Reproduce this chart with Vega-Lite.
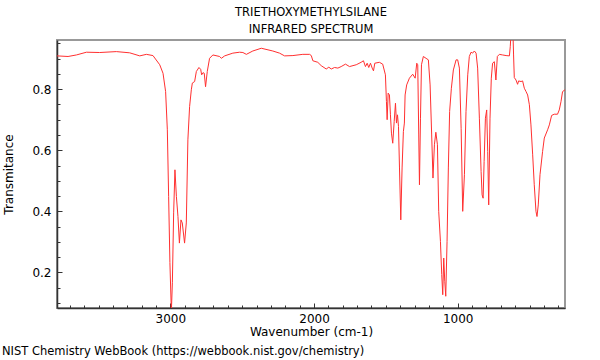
{
 "$schema": "https://vega.github.io/schema/vega-lite/v6.json",
 "background": "white",
 "padding": {"left": 1, "top": 5, "right": 10, "bottom": 2},
 "title": {"text": "NIST Chemistry WebBook (https://webbook.nist.gov/chemistry)", "orient": "bottom", "anchor": "start", "font": "DejaVu Sans", "fontSize": 11.5, "fontWeight": "normal", "color": "#000000", "offset": 8},
 "config": {"view": {"stroke": "#999999", "strokeWidth": 2}, "font": "DejaVu Sans"},
 "vconcat": [{
  "title": {"text": ["TRIETHOXYMETHYLSILANE", "INFRARED SPECTRUM"], "font": "DejaVu Sans", "fontSize": 11.5, "fontWeight": "normal", "color": "#000000", "lineHeight": 17, "offset": 5},
  "width": 508,
  "height": 268,
  "data": {"values": [
   {"w":3789,"t":0.909},{"w":3712,"t":0.907},{"w":3654,"t":0.912},{"w":3584,"t":0.921},{"w":3492,"t":0.920},{"w":3376,"t":0.923},{"w":3283,"t":0.919},{"w":3213,"t":0.909},{"w":3167,"t":0.914},{"w":3121,"t":0.910},{"w":3074,"t":0.880},{"w":3051,"t":0.852},{"w":3033,"t":0.792},{"w":3021,"t":0.667},{"w":3012,"t":0.449},{"w":3003,"t":0.232},{"w":2993,"t":0.07},{"w":2986,"t":0.166},{"w":2977,"t":0.395},{"w":2968,"t":0.536},{"w":2958,"t":0.449},{"w":2947,"t":0.383},{"w":2937,"t":0.296},{"w":2926,"t":0.372},{"w":2917,"t":0.362},{"w":2901,"t":0.296},{"w":2889,"t":0.362},{"w":2878,"t":0.634},{"w":2866,"t":0.743},{"w":2854,"t":0.798},{"w":2847,"t":0.820},{"w":2831,"t":0.825},{"w":2819,"t":0.858},{"w":2801,"t":0.871},{"w":2789,"t":0.865},{"w":2782,"t":0.847},{"w":2773,"t":0.854},{"w":2764,"t":0.852},{"w":2755,"t":0.808},{"w":2743,"t":0.858},{"w":2727,"t":0.901},{"w":2704,"t":0.912},{"w":2657,"t":0.907},{"w":2645,"t":0.901},{"w":2622,"t":0.909},{"w":2565,"t":0.918},{"w":2518,"t":0.921},{"w":2495,"t":0.920},{"w":2471,"t":0.914},{"w":2426,"t":0.925},{"w":2367,"t":0.934},{"w":2287,"t":0.925},{"w":2240,"t":0.918},{"w":2205,"t":0.909},{"w":2147,"t":0.910},{"w":2078,"t":0.914},{"w":2031,"t":0.914},{"w":2019,"t":0.910},{"w":2008,"t":0.893},{"w":1974,"t":0.888},{"w":1950,"t":0.877},{"w":1915,"t":0.866},{"w":1897,"t":0.872},{"w":1880,"t":0.866},{"w":1857,"t":0.871},{"w":1834,"t":0.869},{"w":1811,"t":0.874},{"w":1781,"t":0.882},{"w":1753,"t":0.874},{"w":1706,"t":0.880},{"w":1672,"t":0.888},{"w":1656,"t":0.893},{"w":1642,"t":0.874},{"w":1630,"t":0.885},{"w":1619,"t":0.871},{"w":1607,"t":0.885},{"w":1595,"t":0.869},{"w":1586,"t":0.860},{"w":1577,"t":0.885},{"w":1545,"t":0.888},{"w":1522,"t":0.882},{"w":1503,"t":0.847},{"w":1496,"t":0.760},{"w":1491,"t":0.700},{"w":1484,"t":0.787},{"w":1475,"t":0.781},{"w":1468,"t":0.716},{"w":1461,"t":0.656},{"w":1452,"t":0.623},{"w":1442,"t":0.694},{"w":1433,"t":0.754},{"w":1426,"t":0.689},{"w":1419,"t":0.716},{"w":1412,"t":0.678},{"w":1405,"t":0.542},{"w":1396,"t":0.372},{"w":1387,"t":0.542},{"w":1378,"t":0.661},{"w":1371,"t":0.689},{"w":1366,"t":0.781},{"w":1355,"t":0.814},{"w":1336,"t":0.836},{"w":1313,"t":0.849},{"w":1296,"t":0.836},{"w":1285,"t":0.885},{"w":1278,"t":0.880},{"w":1271,"t":0.650},{"w":1266,"t":0.487},{"w":1259,"t":0.705},{"w":1252,"t":0.880},{"w":1239,"t":0.907},{"w":1220,"t":0.901},{"w":1204,"t":0.896},{"w":1192,"t":0.814},{"w":1181,"t":0.650},{"w":1172,"t":0.509},{"w":1162,"t":0.618},{"w":1152,"t":0.659},{"w":1141,"t":0.618},{"w":1132,"t":0.400},{"w":1120,"t":0.301},{"w":1111,"t":0.193},{"w":1104,"t":0.127},{"w":1097,"t":0.247},{"w":1090,"t":0.171},{"w":1083,"t":0.122},{"w":1074,"t":0.301},{"w":1065,"t":0.542},{"w":1056,"t":0.727},{"w":1044,"t":0.803},{"w":1030,"t":0.863},{"w":1011,"t":0.896},{"w":1000,"t":0.896},{"w":988,"t":0.869},{"w":976,"t":0.672},{"w":965,"t":0.400},{"w":953,"t":0.520},{"w":942,"t":0.727},{"w":930,"t":0.847},{"w":919,"t":0.907},{"w":907,"t":0.921},{"w":896,"t":0.918},{"w":884,"t":0.925},{"w":872,"t":0.918},{"w":861,"t":0.869},{"w":849,"t":0.705},{"w":837,"t":0.530},{"w":830,"t":0.454},{"w":823,"t":0.443},{"w":816,"t":0.563},{"w":807,"t":0.705},{"w":798,"t":0.732},{"w":791,"t":0.596},{"w":784,"t":0.421},{"w":775,"t":0.705},{"w":766,"t":0.836},{"w":757,"t":0.885},{"w":745,"t":0.890},{"w":734,"t":0.830},{"w":724,"t":0.907},{"w":710,"t":0.914},{"w":687,"t":0.912},{"w":663,"t":0.910},{"w":640,"t":0.909},{"w":634,"t":0.939},{"w":629,"t":0.98},{"w":615,"t":0.98},{"w":611,"t":0.912},{"w":606,"t":0.838},{"w":594,"t":0.830},{"w":583,"t":0.816},{"w":576,"t":0.827},{"w":559,"t":0.825},{"w":548,"t":0.827},{"w":536,"t":0.803},{"w":524,"t":0.792},{"w":513,"t":0.781},{"w":501,"t":0.749},{"w":490,"t":0.683},{"w":478,"t":0.585},{"w":467,"t":0.487},{"w":455,"t":0.400},{"w":448,"t":0.383},{"w":439,"t":0.421},{"w":427,"t":0.520},{"w":409,"t":0.596},{"w":397,"t":0.640},{"w":374,"t":0.667},{"w":362,"t":0.683},{"w":346,"t":0.714},{"w":328,"t":0.718},{"w":305,"t":0.718},{"w":293,"t":0.732},{"w":281,"t":0.759},{"w":270,"t":0.792},{"w":253,"t":0.798}
  ]},
  "layer": [
   {
    "mark": {"type": "line", "color": "#ff3030", "strokeWidth": 1, "clip": true, "interpolate": "linear"},
    "encoding": {
     "x": {"field": "w", "type": "quantitative", "sort": null,
       "scale": {"domain": [253, 3789], "reverse": true, "nice": false, "zero": false},
       "axis": {"orient": "bottom", "values": [1000, 2000, 3000], "format": "d", "tickSize": -5, "tickColor": "#333333", "domainColor": "#333333", "domainWidth": 1.5, "grid": false, "labelFontSize": 12, "labelColor": "#000000", "labelPadding": 10, "labelFont": "DejaVu Sans", "title": "Wavenumber (cm-1)", "titleFontSize": 12, "titleFontWeight": "normal", "titleColor": "#000000", "titleFont": "DejaVu Sans", "titlePadding": 2}},
     "y": {"field": "t", "type": "quantitative",
       "scale": {"domain": [0.0835, 0.961], "nice": false, "zero": false},
       "axis": {"orient": "left", "values": [0.2, 0.4, 0.6, 0.8], "format": ".1f", "tickSize": -5, "tickColor": "#333333", "domainColor": "#333333", "domainWidth": 1.5, "grid": false, "labelFontSize": 12, "labelColor": "#000000", "labelPadding": 11, "labelFont": "DejaVu Sans", "title": "Transmitance", "titleFontSize": 12, "titleFontWeight": "normal", "titleColor": "#000000", "titleFont": "DejaVu Sans", "titlePadding": 16}}
    }
   },
   {
    "mark": {"type": "line", "opacity": 0, "clip": true},
    "encoding": {
     "x": {"field": "w", "type": "quantitative", "sort": null,
       "axis": {"orient": "bottom", "values": [300,400,500,600,700,800,900,1100,1200,1300,1400,1500,1600,1700,1800,1900,2100,2200,2300,2400,2500,2600,2700,2800,2900,3100,3200,3300,3400,3500,3600,3700], "tickSize": -3, "tickColor": "#333333", "domain": false, "labels": false, "grid": false, "title": null}},
     "y": {"field": "t", "type": "quantitative",
       "axis": {"orient": "left", "values": [0.1,0.15,0.25,0.3,0.35,0.45,0.5,0.55,0.65,0.7,0.75,0.85,0.9,0.95], "tickSize": -3, "tickColor": "#333333", "domain": false, "labels": false, "grid": false, "title": null}}
    }
   }
  ],
  "resolve": {"axis": {"x": "independent", "y": "independent"}}
 }]
}
